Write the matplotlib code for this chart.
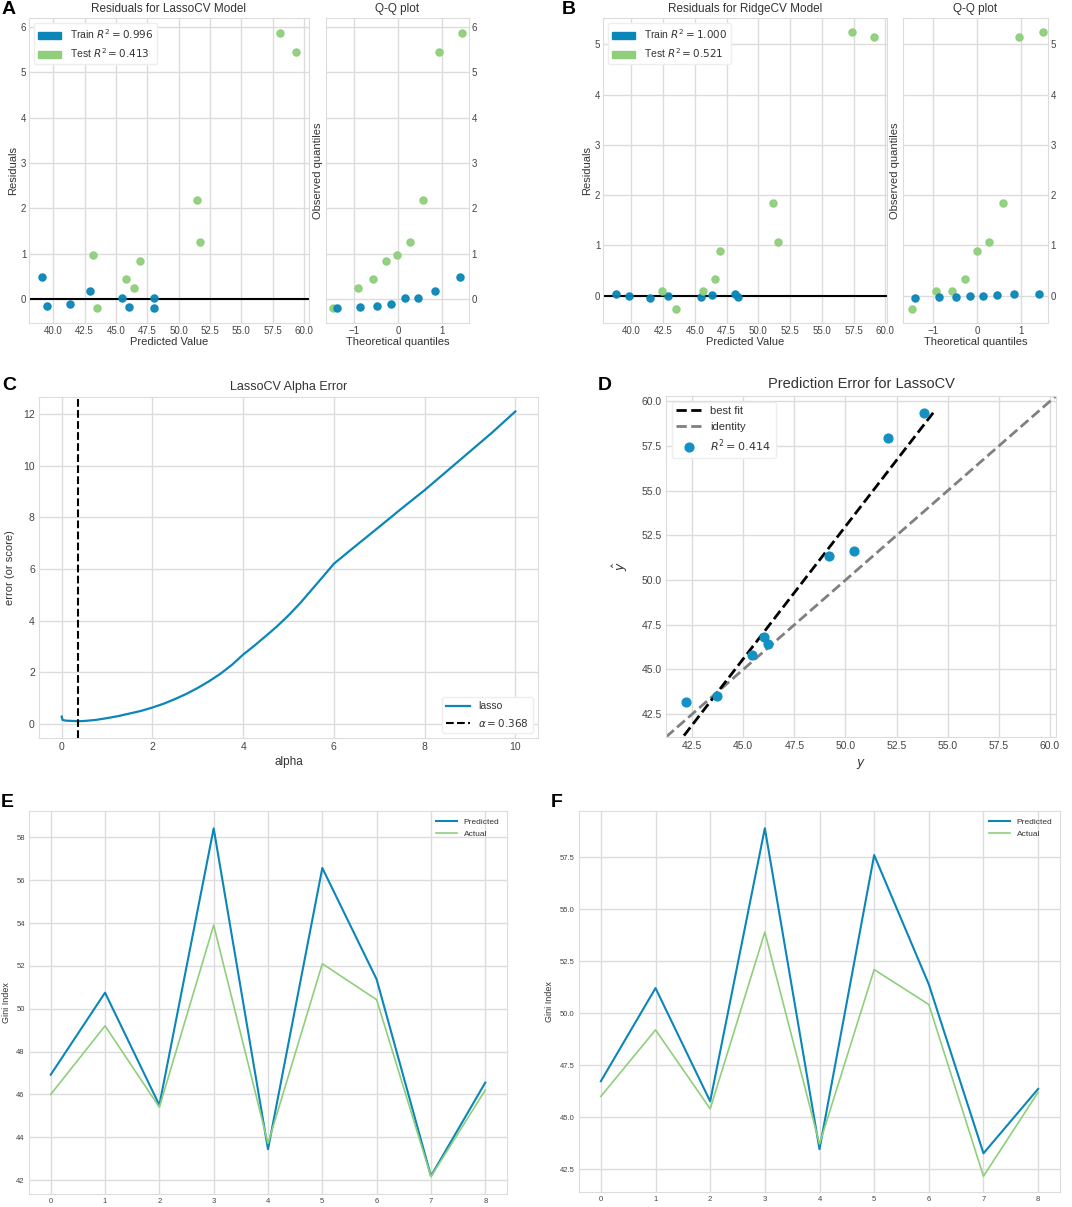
import numpy as np
import matplotlib
matplotlib.use("Agg")
import matplotlib.pyplot as plt
from matplotlib.patches import Patch

# ---- data ----
# A: LassoCV residuals
a_train_pred = [39.1, 39.5, 41.3, 42.95, 45.45, 46.05, 48.0, 48.05]
a_train_res = [0.49, -0.16, -0.12, 0.17, 0.02, -0.18, 0.02, -0.21]
a_test_pred = [58.1, 59.4, 51.45, 51.7, 43.2, 46.9, 45.8, 46.45, 43.5]
a_test_res = [5.88, 5.46, 2.19, 1.25, 0.96, 0.84, 0.43, 0.24, -0.21]
a_qq_train_x = [-1.40, -0.86, -0.48, -0.17, 0.15, 0.46, 0.83, 1.40]
a_qq_train_y = [-0.21, -0.18, -0.16, -0.12, 0.02, 0.02, 0.17, 0.49]
a_qq_test_x = [-1.47, -0.92, -0.57, -0.28, -0.02, 0.26, 0.57, 0.93, 1.46]
a_qq_test_y = [-0.21, 0.24, 0.43, 0.84, 0.96, 1.25, 2.19, 5.46, 5.88]

# B: RidgeCV residuals
b_train_pred = [38.8, 39.8, 41.45, 42.9, 45.5, 46.35, 48.15, 48.4]
b_train_res = [0.04, 0.0, -0.04, 0.0, -0.02, 0.02, 0.04, -0.02]
b_test_pred = [57.4, 59.1, 51.15, 51.55, 47.0, 46.55, 42.4, 45.65, 43.5]
b_test_res = [5.25, 5.15, 1.84, 1.07, 0.89, 0.33, 0.10, 0.10, -0.27]
b_qq_train_x = [-1.40, -0.86, -0.48, -0.16, 0.14, 0.46, 0.84, 1.40]
b_qq_train_y = [-0.04, -0.02, -0.02, 0.0, 0.0, 0.02, 0.04, 0.04]
b_qq_test_x = [-1.47, -0.93, -0.57, -0.28, -0.01, 0.26, 0.58, 0.94, 1.48]
b_qq_test_y = [-0.27, 0.10, 0.10, 0.33, 0.89, 1.07, 1.84, 5.15, 5.25]

# C: LassoCV alpha error curve
alphas = [0.0, 0.02, 0.1, 0.25, 0.368, 0.5, 0.75, 1.0, 1.25, 1.5, 1.75, 2.0, 2.25,
          2.5, 2.75, 3.0, 3.25, 3.5, 3.75, 4.0, 4.25, 4.5, 4.75, 5.0, 5.25, 5.5,
          5.75, 6.0, 6.5, 7.0, 7.5, 8.0, 8.5, 9.0, 9.5, 10.0]
errors = [0.28, 0.15, 0.12, 0.11, 0.10, 0.11, 0.15, 0.22, 0.30, 0.40, 0.50, 0.63, 0.78,
          0.96, 1.16, 1.39, 1.65, 1.94, 2.28, 2.68, 3.03, 3.40, 3.78, 4.20, 4.66, 5.17,
          5.68, 6.20, 6.92, 7.63, 8.35, 9.05, 9.80, 10.55, 11.30, 12.10]
best_alpha = 0.368

# D: prediction error
d_y = [42.21, 43.7, 45.42, 46.0, 46.2, 49.21, 50.41, 52.06, 53.86]
d_yhat = [43.18, 43.5, 45.8, 46.83, 46.43, 51.36, 51.63, 57.94, 59.35]

# E / F: predicted vs actual Gini index
idx = [0, 1, 2, 3, 4, 5, 6, 7, 8]
e_pred = [46.92, 50.75, 45.5, 58.42, 43.44, 56.57, 51.37, 42.19, 46.55]
f_pred = [46.73, 51.21, 45.76, 58.9, 43.46, 57.61, 51.39, 43.26, 46.36]
actual = [46.0, 49.2, 45.4, 53.9, 43.71, 52.1, 50.42, 42.16, 46.2]

BLUE = "#0a86b8"
GREEN = "#8fcf7c"
GRID = "#dcdcdc"
TXT = "#333333"

plt.rcParams["font.family"] = ["Liberation Sans", "DejaVu Sans"]
plt.rcParams["axes.edgecolor"] = GRID
plt.rcParams["axes.grid"] = True
plt.rcParams["grid.color"] = GRID
plt.rcParams["grid.linewidth"] = 1.0
plt.rcParams["xtick.major.size"] = 0
plt.rcParams["ytick.major.size"] = 0
plt.rcParams["xtick.color"] = "#444444"
plt.rcParams["ytick.color"] = "#444444"
plt.rcParams["axes.labelcolor"] = TXT
plt.rcParams["text.color"] = TXT
plt.rcParams["axes.axisbelow"] = True
plt.rcParams["axes.unicode_minus"] = True

W, H = 1072, 1207
fig = plt.figure(figsize=(W / 100, H / 100), dpi=100)


def rect(x0, y0, x1, y1):
    return [x0 / W, 1 - y1 / H, (x1 - x0) / W, (y1 - y0) / H]


def panel_label(x, y, s):
    fig.text(x / W, 1 - y / H, s, fontsize=14, fontweight="bold", color="black",
             ha="left", va="top", family=["Liberation Sans", "DejaVu Sans"])


def residual_panel(main_rect, qq_rect, title, tr_p, tr_r, te_p, te_r, r2_train, r2_test,
                   qtr_x, qtr_y, qte_x, qte_y, ylim, xlim, qxlim, yticks):
    ax = fig.add_axes(rect(*main_rect))
    ax.scatter(tr_p, tr_r, s=26, color=BLUE, alpha=0.95, zorder=3)
    ax.scatter(te_p, te_r, s=26, color=GREEN, alpha=0.95, zorder=3)
    ax.axhline(0, color="black", lw=1.5, zorder=2)
    ax.set_xlim(*xlim)
    ax.set_ylim(*ylim)
    ax.set_xticks([40, 42.5, 45, 47.5, 50, 52.5, 55, 57.5, 60])
    ax.set_xticklabels(["40.0", "42.5", "45.0", "47.5", "50.0", "52.5", "55.0", "57.5", "60.0"])
    ax.set_yticks(yticks)
    ax.tick_params(labelsize=7, pad=2)
    ax.set_title(title, fontsize=8.5, pad=4)
    ax.set_xlabel("Predicted Value", fontsize=8, labelpad=1)
    ax.set_ylabel("Residuals", fontsize=8, labelpad=2)
    handles = [Patch(color=BLUE, label="Train $R^2 = %s$" % r2_train),
               Patch(color=GREEN, label="Test $R^2 = %s$" % r2_test)]
    ax.legend(handles=handles, loc="upper left", fontsize=7.5, frameon=True,
              facecolor="white", edgecolor="#eeeeee", framealpha=1, handlelength=2.2)

    qq = fig.add_axes(rect(*qq_rect))
    qq.scatter(qte_x, qte_y, s=26, color=GREEN, alpha=0.95, zorder=3)
    qq.scatter(qtr_x, qtr_y, s=26, color=BLUE, alpha=0.95, zorder=3)
    qq.set_xlim(*qxlim)
    qq.set_ylim(*ylim)
    qq.set_xticks([-1, 0, 1])
    qq.set_yticks(yticks)
    qq.yaxis.tick_right()
    qq.tick_params(labelsize=7, pad=2)
    qq.set_title("Q-Q plot", fontsize=8.5, pad=4)
    qq.set_xlabel("Theoretical quantiles", fontsize=8, labelpad=1)
    qq.set_ylabel("Observed quantiles", fontsize=8, labelpad=2)


# A
residual_panel((29, 18, 309, 323), (326, 18, 469, 323), "Residuals for LassoCV Model",
               a_train_pred, a_train_res, a_test_pred, a_test_res, "0.996", "0.413",
               a_qq_train_x, a_qq_train_y, a_qq_test_x, a_qq_test_y,
               (-0.53, 6.2), (38.06, 60.4), (-1.64, 1.61), [0, 1, 2, 3, 4, 5, 6])
panel_label(2, 1, "A")

# B
residual_panel((603, 18, 887, 323), (903, 18, 1048, 323), "Residuals for RidgeCV Model",
               b_train_pred, b_train_res, b_test_pred, b_test_res, "1.000", "0.521",
               b_qq_train_x, b_qq_train_y, b_qq_test_x, b_qq_test_y,
               (-0.54, 5.52), (37.77, 60.13), (-1.67, 1.6), [0, 1, 2, 3, 4, 5])
panel_label(562, 1, "B")

# C
axc = fig.add_axes(rect(39, 397, 538, 738))
axc.plot(alphas, errors, color=BLUE, lw=1.6, label="lasso")
axc.axvline(best_alpha, color="black", ls="--", lw=1.5, label=r"$\alpha = %.3f$" % best_alpha)
axc.set_xlim(-0.5, 10.5)
axc.set_ylim(-0.55, 12.66)
axc.set_xticks([0, 2, 4, 6, 8, 10])
axc.set_yticks([0, 2, 4, 6, 8, 10, 12])
axc.tick_params(labelsize=7.5, pad=3)
axc.set_title("LassoCV Alpha Error", fontsize=9, pad=5)
axc.set_xlabel("alpha", fontsize=8.5, labelpad=3)
axc.set_ylabel("error (or score)", fontsize=8, labelpad=6)
axc.legend(loc="lower right", fontsize=7.5, frameon=True, facecolor="white",
           edgecolor="#eeeeee", framealpha=1, handlelength=2.3)
panel_label(2, 377, "C")

# D
axd = fig.add_axes(rect(666, 396, 1056, 737))
lims = (41.22, 60.3)
slope, intercept = np.polyfit(d_y, d_yhat, 1)
fx = np.array([lims[0], max(d_y) + 0.5])
axd.plot(fx, slope * fx + intercept, color="black", ls="--", lw=2, label="best fit", zorder=3)
axd.plot(lims, lims, color="#808080", ls="--", lw=2, label="identity", zorder=2)
axd.scatter(d_y, d_yhat, s=40, color="#1391c2", label="$R^2 = 0.414$", zorder=4)
axd.set_xlim(*lims)
axd.set_ylim(*lims)
ticks = [42.5, 45, 47.5, 50, 52.5, 55, 57.5, 60]
axd.set_xticks(ticks)
axd.set_yticks(ticks)
axd.set_xticklabels(["%.1f" % t for t in ticks])
axd.set_yticklabels(["%.1f" % t for t in ticks])
axd.tick_params(labelsize=7.5, pad=3)
axd.set_title("Prediction Error for LassoCV", fontsize=10.5, pad=6)
axd.set_xlabel("$y$", fontsize=9, labelpad=4)
axd.set_ylabel(r"$\hat{y}$", fontsize=9, labelpad=8)
axd.legend(loc="upper left", fontsize=8, frameon=True, facecolor="white",
           edgecolor="#eeeeee", framealpha=1, handlelength=2.3)
panel_label(598, 377, "D")


def gini_panel(r, pred, yticks, ylabels, ylim):
    ax = fig.add_axes(rect(*r))
    ax.plot(idx, pred, color=BLUE, lw=1.5, label="Predicted")
    ax.plot(idx, actual, color=GREEN, lw=1.2, label="Actual")
    ax.set_xlim(-0.4, 8.4)
    ax.set_ylim(*ylim)
    ax.set_xticks(idx)
    ax.set_yticks(yticks)
    ax.set_yticklabels(ylabels)
    ax.tick_params(labelsize=5.5, pad=3)
    ax.set_ylabel("Gini Index", fontsize=6.5, labelpad=4)
    ax.legend(loc="upper right", fontsize=6, frameon=False, handlelength=2.5)
    return ax


gini_panel((29, 811, 507, 1194), e_pred, [42, 44, 46, 48, 50, 52, 54, 56, 58],
           ["42", "44", "46", "48", "50", "52", "54", "56", "58"], (41.35, 59.23))
panel_label(1, 794, "E")

gini_panel((579, 811, 1060, 1192), f_pred, [42.5, 45, 47.5, 50, 52.5, 55, 57.5],
           ["42.5", "45.0", "47.5", "50.0", "52.5", "55.0", "57.5"], (41.4, 59.73))
panel_label(551, 794, "F")

fig.savefig("out.png", dpi=100, facecolor="white")
